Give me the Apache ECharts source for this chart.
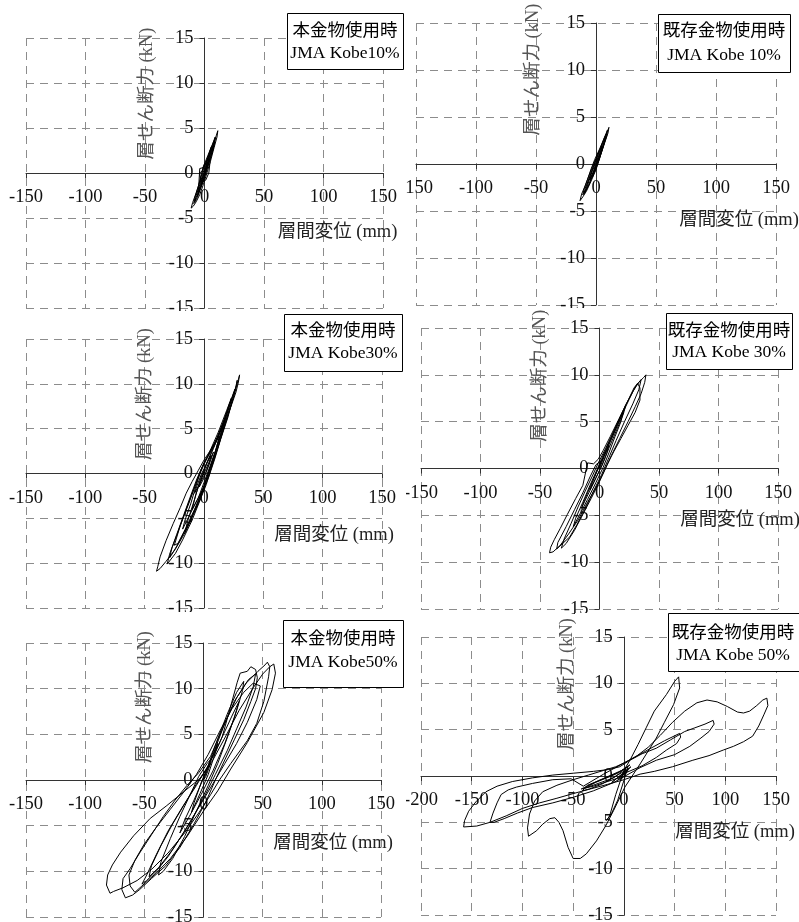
<!DOCTYPE html>
<html><head><meta charset="utf-8">
<script src="https://cdn.jsdelivr.net/npm/echarts@6/dist/echarts.min.js"></script>
<style>html,body{margin:0;padding:0;background:#fff}#c{width:799px;height:922px}</style>
</head><body><div id="c"></div>
<script>
// ---- data (x: 層間変位 mm, y: 層せん断力 kN) ----
const xRanges = [[-150,150],[-150,150],[-150,150],[-150,150],[-150,150],[-200,150]];
const yRange = [-15,15];
const legendLine1 = ['本金物使用時','既存金物使用時','本金物使用時','既存金物使用時','本金物使用時','既存金物使用時'];
const legendLine2 = ['JMA Kobe10%','JMA Kobe 10%','JMA Kobe30%','JMA Kobe 30%','JMA Kobe50%','JMA Kobe 50%'];
const xTitle = '層間変位 (mm)';
const yTitle = '層せん断力 (kN)';

const p1 = [[0,0],[2,0.9],[4,1.6],[3,1.0],[1,0.2],[-1,-0.6],[-3,-1.4],[-2,-0.8],[0,0.1],
[3,1.3],[6,2.5],[8,3.4],[7,2.6],[5,1.7],[2,0.4],[-1,-0.9],[-4,-1.9],[-6,-2.6],[-5,-1.8],[-4,0.5],[-1,0.6],[0,0.4],
[4,1.9],[7,3.0],[10,4.2],[11.2,4.7],[10.5,4.0],[8,2.8],[5,1.3],[2,0.0],[-1,-1.3],[-4,-2.4],[-7,-3.2],[-9.5,-3.7],[-11.2,-3.9],[-10,-3.3],[-7,-2.2],[-4,-1.0],[-2,0.0],[0,0.8],
[3,1.8],[6,2.9],[9,3.9],[8.5,3.3],[6,2.2],[3,0.9],[0,-0.4],[-3,-1.6],[-6,-2.7],[-8,-3.2],[-7,-2.5],[-4,-1.3],[-1,0.1],[2,1.2],[5,2.2],[7.5,3.1],[6.5,2.4],[4,1.3],[1,0.0],[-2,-1.2],[-5,-2.2],[-4,-1.5],[-1,-0.2],[1,0.6],
[2,1.4],[5,2.6],[9,4.0],[8,3.0],[5,1.6],[3.6,0.0],[1,-0.8],[-2,-1.0],[-6,-2.4],[-9,-3.4],[-8,-2.7],[-5,-1.4],[-3,-0.3],[-1,0.7],[3,2.0],[6,3.0],[4,1.8],[1,0.3],[-3,-1.0],[-4.2,0.0],[-2,0.2],[0,1.0],[2,0.9],[0,0]];

const p2 = [[0,0],[2,0.7],[4,1.3],[3,0.8],[0,-0.2],[-3,-1.1],[-5,-1.7],[-4,-1.1],[-1,-0.1],
[3,1.1],[6,2.1],[8,2.9],[7,2.3],[4,1.1],[1,0.0],[-3,-1.3],[-6,-2.2],[-9,-3.0],[-8,-2.4],[-5,-1.3],[-2,-0.2],[1,0.8],
[5,2.0],[8,3.0],[10.8,3.9],[10,3.3],[7,2.2],[4,1.0],[0,-0.6],[-4,-1.8],[-8,-2.9],[-11,-3.5],[-13.3,-3.9],[-12,-3.2],[-9,-2.3],[-6,-1.3],[-3,-0.3],[0,0.6],
[4,1.8],[7,2.8],[9,3.3],[8,2.7],[5,1.5],[2,0.3],[-2,-1.0],[-6,-2.2],[-10,-3.2],[-9,-2.6],[-6,-1.6],[-2,-0.2],[2,1.0],[5,1.9],[4,1.3],[1,0.2],[-2,-0.8],
[-5,-1.5],[-8,-2.6],[-11,-3.3],[-10,-2.7],[-7,-1.6],[-4,-0.5],[-1,0.5],[3,1.6],[6,2.5],[9.5,3.6],[9,3.0],[6,1.8],[3,0.6],[0,-0.5],[-3,-1.4],[-1,-0.3],[0,0]];

const p3 = [[0,0],[4,1.2],[8,2.4],[6,1.6],[2,0.2],[-3,-1.0],[-8,-2.2],[-6,-1.4],[-2,0.0],[2,1.0],
[8,2.8],[14,4.8],[18,6.2],[16,5.3],[12,3.6],[8,1.8],[4,0.2],[0,-1.5],[-6,-3.0],[-12,-4.6],[-18,-6.2],[-16,-5.2],[-11,-3.3],[-7,-1.5],[-3,0.2],[0,1.2],
[6,2.6],[12,4.2],[18,6.3],[24,8.6],[28,10.0],[30,11.0],[29,10.2],[27,9.1],[22,7.2],[16,4.8],[10,2.2],[6,0.6],[2,-0.9],[-3,-2.8],[-9,-4.6],[-16,-6.6],[-24,-8.4],[-32,-9.8],[-37,-10.6],[-40,-10.9],[-39,-10.4],[-37,-9.3],[-32,-7.5],[-26,-5.6],[-20,-3.8],[-15,-2.2],[-10,-0.9],[-5,0.3],[0,1.5],[5,2.5],
[10,3.6],[16,5.6],[22,7.9],[26,9.4],[25,8.6],[21,7.0],[15,4.6],[9,2.2],[5,0.6],[0,-1.4],[-6,-3.6],[-13,-5.6],[-20,-7.4],[-26,-8.8],[-29,-9.4],[-27,-8.3],[-21,-6.2],[-15,-4.0],[-9,-1.9],[-4,-0.2],[1,1.3],[6,2.8],[12,4.6],[19,7.0],[23,8.4],[21,7.3],[14,4.3],[8,1.6],[3,-0.3],[-3,-2.4],[-10,-4.8],[-16,-6.6],[-14,-5.4],[-8,-2.9],[-3,-0.6],[2,1.1],[6,2.0],[4,1.0],[0,-0.5],[-4,-1.5],[-2,-0.5],
[3,1.4],[9,3.2],[15,5.0],[21,7.4],[26,9.2],[28,10.4],[27,9.5],[24,8.1],[18,5.6],[12,3.0],[7,1.0],[2,-1.2],[-4,-3.2],[-10,-5.2],[-18,-7.4],[-24,-8.9],[-31,-10.1],[-29,-9.0],[-23,-6.8],[-17,-4.6],[-11,-2.4],[-6,-0.6],[-1,0.9],[4,2.1],
[11,4.0],[17,6.0],[22,8.0],[24,8.2],[20,6.2],[14,3.8],[9,1.6],[4,-0.4],[-2,-2.2],[-8,-4.0],[-15,-6.0],[-22,-7.8],[-25,-8.0],[-20,-5.8],[-13,-3.4],[-7,-1.2],[-2,0.6],[3,1.8],[8,3.0],[13,4.2],[10,2.6],[5,0.8],[0,-1.0],[-5,-2.8],[-10,-4.0],[-7,-2.4],[-3,-0.8],[0,0]];

const p4 = [[0,0],[4,1.3],[8,2.5],[6,1.6],[2,0.3],[-3,-1.0],[-8,-2.3],[-6,-1.5],[-2,-0.2],[3,1.2],
[9,2.9],[15,4.6],[20,6.0],[18,5.0],[13,3.4],[8,1.7],[3,0.1],[-3,-1.5],[-10,-3.3],[-17,-5.0],[-22,-6.2],[-20,-5.3],[-14,-3.6],[-8,-1.8],[-2,-0.1],[2,1.1],
[8,2.8],[15,4.8],[22,6.8],[28,8.2],[33,9.2],[37,9.7],[39,10.0],[38,9.2],[35,8.0],[30,6.6],[24,5.0],[17,3.2],[10,1.4],[4,-0.3],[-2,-1.8],[-10,-3.6],[-18,-5.5],[-26,-7.0],[-33,-8.2],[-39,-8.9],[-42,-9.0],[-41,-8.4],[-38,-7.6],[-33,-6.4],[-27,-4.9],[-20,-3.2],[-14,-1.8],[-10,0.6],[-5,0.5],[-1,1.0],[3,1.9],[9,3.4],[16,5.2],[23,7.0],[29,8.6],[32,9.1],[34,8.6],[34,7.3],[30,6.0],[24,4.6],[18,3.2],[12,1.8],[6,0.3],[0,-1.4],[-7,-3.2],[-14,-4.9],[-21,-6.6],[-28,-8.0],[-32,-8.5],[-30,-7.6],[-24,-5.9],[-18,-4.1],[-12,-2.4],[-6,-0.8],[-1,0.6],[5,2.1],[11,3.7],[17,5.4],[22,6.7],[20,5.8],[14,4.0],[8,2.2],[3,0.6],[-3,-1.0],[-9,-2.6],[-15,-4.2],[-13,-3.5],[-7,-1.7],[-2,-0.3],[2,0.8],
[7,2.3],[13,4.0],[19,5.8],[25,7.4],[30,8.7],[35,9.5],[33,8.4],[28,6.9],[21,5.0],[14,3.0],[8,1.2],[2,-0.6],[-5,-2.4],[-12,-4.3],[-19,-6.0],[-25,-7.3],[-36,-8.6],[-35,-7.9],[-28,-6.2],[-21,-4.4],[-14,-2.6],[-8,-0.9],[-3,0.4],[1,0.8],[0,0]];

const p5 = [[0,0],[6,2.0],[12,4.0],[10,3.0],[4,0.6],[-3,-1.5],[-10,-3.5],[-8,-2.5],[-2,-0.3],
[4,1.6],[12,4.5],[20,7.2],[28,9.6],[34,10.8],[33,9.8],[28,7.6],[20,4.6],[12,1.8],[4,-0.6],[-6,-3.4],[-16,-6.2],[-26,-8.6],[-34,-10.0],[-38,-10.4],[-36,-9.0],[-28,-6.4],[-20,-4.0],[-12,-1.8],[-4,0.4],
[3,1.8],[9,2.7],[16,4.8],[23,8.1],[28.5,10.7],[31,11.7],[37,11.9],[40,12.4],[44,12.1],[45.5,11.2],[44,10.0],[40,8.6],[34,6.6],[26,4.4],[18,2.2],[10,0.0],[2,-2.4],[-8,-4.8],[-20,-7.4],[-32,-9.4],[-44,-10.8],[-54,-12.0],[-60,-12.6],[-66,-12.9],[-69,-12.0],[-68,-10.8],[-62,-9.7],[-54,-8.0],[-44,-6.0],[-34,-4.0],[-24,-2.2],[-14,-0.6],[-4,0.8],
[6,2.6],[16,5.6],[26,8.6],[36,10.6],[46,11.9],[52,12.6],[54,12.9],[56,12.4],[55,11.3],[51,8.6],[45,6.2],[37,4.3],[23,1.8],[14,0.1],[6,-1.6],[-4,-3.6],[-16,-5.8],[-30,-8.0],[-44,-9.8],[-56,-11.0],[-68,-11.8],[-76,-12.2],[-79,-12.4],[-82,-11.5],[-81,-10.4],[-77,-9.3],[-70,-7.9],[-59,-6.1],[-45,-4.2],[-31,-2.8],[-14,-1.0],[-2.5,0.2],[8,2.2],
[18,4.6],[30,7.6],[42,10.1],[50,11.6],[56,12.4],[59.4,12.7],[60.8,11.7],[58,9.9],[51,7.4],[37,4.1],[23,1.2],[12,-1.2],[0,-3.4],[-14,-6.2],[-28,-8.6],[-40,-10.2],[-52,-11.6],[-58,-12.3],[-62,-11.6],[-63,-10.4],[-58,-8.8],[-50,-7.0],[-40,-5.2],[-28,-3.2],[-16,-1.2],[-6,0.6],[4,2.8],
[14,5.4],[24,7.8],[34,9.6],[42,10.6],[48,10.3],[45,8.8],[37,6.3],[28,4.0],[18,1.8],[8,-0.4],[-4,-3.0],[-18,-6.0],[-30,-8.4],[-40,-10.0],[-48,-11.0],[-52,-11.4],[-48,-10.4],[-40,-8.2],[-30,-5.6],[-18,-3.0],[-6,-0.6],[4,1.6],[14,4.2],[24,7.0],[30,8.6],[26,6.8],[18,4.0],[8,1.0],[-2,-1.6],[-12,-4.0],[-20,-5.8],[-16,-4.4],[-8,-2.2],[0,0.2],
[8,2.8],[18,6.2],[28,9.0],[38,11.0],[44,11.6],[42,10.2],[36,8.0],[28,5.6],[20,3.2],[10,0.6],[0,-2.0],[-12,-4.8],[-26,-7.6],[-38,-9.6],[-46,-10.6],[-44,-9.4],[-36,-7.2],[-26,-4.8],[-14,-2.2],[-4,0.0],[6,1.8],[2,0.4],[0,0]];

const p6 = [[0,0],[4,0.6],[-6,-0.4],[7,1.0],[-12,-0.7],[5,0.8],[-22,-0.9],[-34,-1.4],[-41,-1.6],[-36,-1.0],[-20,-0.3],[-5,0.4],[6,1.2],[-10,-0.2],[-38,-1.3],[-28,-0.7],[-8,0.2],[4,1.0],[0,-0.5],
[-6,-2.6],[-12,-4.0],[-17,-4.8],[-14,-4.3],[-8,-2.0],[0,0.6],[6,1.7],[14,3.4],[22,5.2],[30,7.0],[42,8.8],[50,10.2],[54,10.7],[55,9.5],[49,7.7],[40,5.8],[32,4.1],[16,1.3],[1,-1.2],
[-10,-3.7],[-18,-5.4],[-27,-7.0],[-37,-8.4],[-43,-8.9],[-50,-8.9],[-55,-7.7],[-60,-5.9],[-64,-5.0],[-68,-4.5],[-73,-4.6],[-80,-5.2],[-86,-5.9],[-94,-6.5],[-95,-5.6],[-93,-4.1],[-88,-2.7],[-80,-1.7],[-66,-1.0],[-50,-0.4],[-35,0.1],[-20,0.6],[-8,1.0],[2,1.5],[12,2.1],[24,3.1],[36,4.4],[48,5.8],[60,7.0],[72,7.9],[82,8.2],[92,8.0],[102,7.5],[112,6.9],[118,6.8],[124,7.0],[131,7.6],[137,8.2],[141,8.4],[142,7.6],[138,6.6],[133,5.4],[127,4.3],[118,3.7],[108,3.2],[98,2.8],[84,2.2],[68,1.7],[48,1.0],[30,0.5],[16,0.2],[0,-0.4],[-16,-0.9],[-33,-1.4],[-50,-1.9],[-66,-2.4],[-83,-2.9],[-100,-3.5],[-116,-4.3],[-132,-5.0],[-145,-5.4],[-158,-5.5],[-157,-4.8],[-153,-3.8],[-146,-2.8],[-136,-1.7],[-125,-1.1],[-110,-0.6],[-90,-0.2],[-70,0.1],[-50,0.3],[-30,0.5],[-15,0.7],[-4,1.0],
[6,1.7],[18,2.4],[32,3.0],[46,3.9],[60,4.8],[70,5.2],[80,5.6],[88,6.0],[89,5.6],[84,4.8],[76,4.1],[65,3.2],[50,2.3],[32,1.7],[16,0.9],[3,0.1],[-10,-0.7],[-30,-1.6],[-50,-2.3],[-70,-2.9],[-90,-3.4],[-105,-4.0],[-118,-4.6],[-128,-5.0],[-132,-5.0],[-129,-4.0],[-125,-2.9],[-121,-2.0],[-114,-1.5],[-106,-1.2],[-90,-0.8],[-70,-0.4],[-52,-0.3],
[-40,-1.1],[-20,0.2],[0,1.4],[20,2.6],[40,3.8],[55,4.6],[56,4.2],[52,3.5],[42,2.8],[32,2.0],[18,1.1],[3,0.4],[-5,-0.2],[-30,-1.1],[-42,-1.4],[-25,-0.5],[2,0.8],[-3,-0.4],[0,0]];

const panels = [p1,p2,p3,p4,p5,p6];

// ---- layout ----
const FONT = "'Liberation Serif','Noto Sans CJK JP',serif";
const grids = [
  {left:26, top:38, width:357, height:270},
  {left:416, top:23, width:360, height:282},
  {left:26, top:339, width:356, height:269},
  {left:421, top:328, width:357, height:281},
  {left:26, top:643, width:355, height:274},
  {left:421, top:637, width:355, height:278}
];
const legendBoxes = [
  {x:287, y:13, w:116, h:56, cx:345, l1:31.7, l2:53.3},
  {x:658, y:14, w:132, h:58, cx:724, l1:31.7, l2:55},
  {x:284, y:314, w:118, h:57, cx:343, l1:331.7, l2:353.3},
  {x:666, y:313, w:126, h:56, cx:729, l1:331, l2:352},
  {x:283, y:620, w:120, h:67, cx:343, l1:639.5, l2:662},
  {x:668, y:613, w:131, h:58, cx:733, l1:633.3, l2:655}
];
const yTitlePos = [[147,93.5],[533,69.5],[145,394],[540,375.7],[145,697],[566.7,684]];
const xTitlePos = [[337.5,231.7],[739,220],[334,535],[740,520],[333,843.3],[735,831.7]];

const axisLineStyle = {color:'#333', width:1};
const split = {show:true, lineStyle:{type:[8,6], color:'#8c8c8c', width:1}};
const labelStyle = {color:'#111', fontSize:18.5, fontFamily:FONT};

// axes are moved onto the zero lines with offsets computed from the scales
const xAxis = grids.map((g,i)=>({
  type:'value', gridIndex:i, min:xRanges[i][0], max:xRanges[i][1], interval:50,
  position:'bottom', offset:-g.height*(0-yRange[0])/(yRange[1]-yRange[0]),
  axisLine:{onZero:false, lineStyle:axisLineStyle},
  axisTick:{show:true, length:5, lineStyle:axisLineStyle},
  axisLabel:Object.assign({margin:15}, labelStyle),
  splitLine:split
}));
const yAxis = grids.map((g,i)=>({
  type:'value', gridIndex:i, min:yRange[0], max:yRange[1], interval:5,
  position:'left', offset:-g.width*(0-xRanges[i][0])/(xRanges[i][1]-xRanges[i][0]),
  axisLine:{onZero:false, lineStyle:axisLineStyle},
  axisTick:{show:true, length:5, lineStyle:axisLineStyle},
  axisLabel:Object.assign({margin:11}, labelStyle),
  splitLine:split
}));
const series = panels.map((d,i)=>({
  type:'line', xAxisIndex:i, yAxisIndex:i, data:d, showSymbol:false, symbol:'none',
  lineStyle:{color:'#000', width:1}, z:3, silent:true, animation:false
}));

const graphic = [];
legendBoxes.forEach((b,i)=>{
  graphic.push({type:'rect', z:100, shape:{x:b.x+0.5, y:b.y+0.5, width:b.w, height:b.h}, style:{fill:'#fff', stroke:'#000', lineWidth:1}});
  graphic.push({type:'text', z:101, x:b.cx, y:b.l1, style:{text:legendLine1[i], font:'17.5px '+FONT, fill:'#000', align:'center', verticalAlign:'middle'}});
  graphic.push({type:'text', z:101, x:b.cx, y:b.l2, style:{text:legendLine2[i], font:'17.5px '+FONT, fill:'#000', align:'center', verticalAlign:'middle'}});
});
yTitlePos.forEach(p=>graphic.push({type:'text', z:50, x:p[0], y:p[1], rotation:Math.PI/2,
  style:{text:yTitle, font:'18.5px '+FONT, fill:'#555', align:'center', verticalAlign:'middle'}}));
xTitlePos.forEach(p=>graphic.push({type:'text', z:50, x:p[0], y:p[1],
  style:{text:xTitle, font:'18.5px '+FONT, fill:'#222', align:'center', verticalAlign:'middle'}}));
// panel edge cropping (as in the stitched reference)
[[398,176,8,26],[398,481,8,26],[398,789,8,26],[155,311,50,9],[545,308,50,4],[155,612,50,9],[575,613,25,7]].forEach(r=>
  graphic.push({type:'rect', z:90, shape:{x:r[0], y:r[1], width:r[2], height:r[3]}, style:{fill:'#fff'}}));

const chart = echarts.init(document.getElementById('c'), null, {renderer:'canvas'});
chart.setOption({
  animation:false, backgroundColor:'#fff',
  grid:grids.map(g=>Object.assign({containLabel:false, outerBoundsMode:'none'}, g)),
  xAxis, yAxis, series, graphic
});
</script></body></html>
